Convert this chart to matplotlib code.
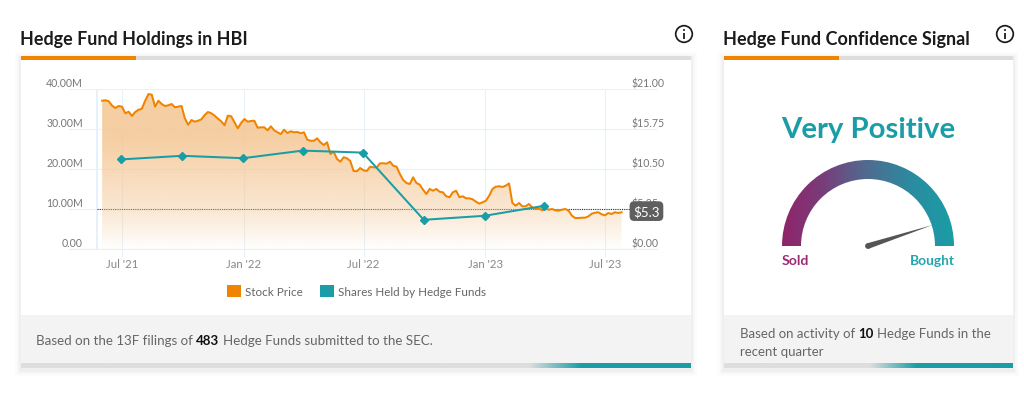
import matplotlib
matplotlib.use("Agg")
import matplotlib.pyplot as plt
import matplotlib.dates as mdates
import numpy as np
import pandas as pd
from matplotlib.patches import Rectangle, Polygon, Circle, Wedge, Patch
from matplotlib.colors import LinearSegmentedColormap

plt.rcParams['font.family'] = ['Lato', 'DejaVu Sans']

# ---- data ----
price_start = "2021-06-01"
price_step_days = 5
stock_price = [
    19.46, 19.52, 19.39, 18.81, 18.51, 18.77, 18.68, 17.81, 18.02, 17.46, 17.98, 18.28, 18.41, 19.46, 20.34, 20.25,
    18.68, 19.46, 19.03, 18.77, 18.86, 19.03, 18.60, 18.68, 18.77, 17.15, 16.31, 16.93, 16.71, 16.84, 17.02, 17.59,
    17.98, 17.81, 17.50, 17.10, 16.76, 16.24, 17.50, 17.42, 16.63, 15.84, 16.54, 17.06, 16.71, 16.80, 16.84, 15.92,
    15.97, 15.97, 15.58, 16.10, 15.58, 15.32, 15.09, 15.66, 15.23, 15.45, 15.32, 15.36, 15.19, 15.32, 14.35, 14.21,
    14.21, 14.53, 14.00, 13.65, 14.00, 12.47, 12.77, 11.81, 11.46, 12.04, 11.90, 11.55, 10.24, 10.20, 10.63, 10.33,
    10.24, 10.80, 10.72, 10.72, 11.25, 11.25, 11.20, 11.46, 10.93, 10.80, 9.84, 9.06, 8.66, 8.53, 9.41, 8.66,
    8.44, 7.78, 7.22, 7.88, 7.65, 7.88, 7.52, 7.44, 6.92, 6.79, 7.44, 7.65, 6.79, 6.92, 6.65, 6.65,
    6.52, 6.21, 5.95, 6.13, 6.34, 7.00, 7.88, 8.18, 8.23, 8.14, 8.31, 8.60, 6.04, 5.68, 6.04, 5.60,
    5.60, 5.91, 5.47, 5.25, 5.34, 5.08, 5.34, 5.16, 5.25, 5.08, 5.03, 5.16, 5.25, 5.03, 4.37, 4.07,
    4.07, 4.11, 4.11, 4.29, 4.63, 4.76, 4.82, 4.55, 4.42, 4.73, 4.59, 4.82, 4.73, 4.82,
]
share_dates = ["2021-06-30", "2021-09-30", "2021-12-31", "2022-03-31",
               "2022-06-30", "2022-09-30", "2022-12-31", "2023-03-31"]
shares_held = [22.4e6, 23.3e6, 22.7e6, 24.6e6, 24.1e6, 7.3e6, 8.3e6, 10.8e6]
last_price = 5.3
x_tick_dates = ["2021-07-01", "2022-01-01", "2022-07-01", "2023-01-01", "2023-07-01"]
x_tick_labels = ["Jul '21", "Jan '22", "Jul '22", "Jan '23", "Jul '23"]
left_ticks = [0, 10e6, 20e6, 30e6, 40e6]
left_labels = ["0.00", "10.00M", "20.00M", "30.00M", "40.00M"]
right_ticks = [0, 5.25, 10.5, 15.75, 21]
right_labels = ["$0.00", "$5.25", "$10.50", "$15.75", "$21.00"]
gauge_needle_deg = 18.0   # degrees above the "Bought" end

ORANGE = "#F08300"
TEAL = "#1A9DA6"
GRID = "#E8F1FA"
W, H = 1024, 406

fig = plt.figure(figsize=(W / 100, H / 100), dpi=100, facecolor="white")

# background layer in pixel coordinates
bg = fig.add_axes([0, 0, 1, 1], zorder=0)
bg.set_xlim(0, W); bg.set_ylim(H, 0); bg.axis("off")


def hgrad(ax, x0, x1, y0, y1, colors, stops=None, clip=None, z=2):
    if stops is None:
        stops = np.linspace(0, 1, len(colors))
    cmap = LinearSegmentedColormap.from_list("g", list(zip(stops, colors)))
    im = ax.imshow(np.linspace(0, 1, 512)[None, :], extent=(x0, x1, y1, y0), cmap=cmap,
                   aspect="auto", zorder=z, interpolation="bilinear")
    if clip is not None:
        im.set_clip_path(clip)
    return im


def panel(x0, x1, orange_end, grad_start, grad_end, footer_top=316):
    top, bottom = 57, 369
    for g, a in zip((6, 4, 2), (0.012, 0.02, 0.03)):
        bg.add_patch(Rectangle((x0 - g, top - g + 2), x1 - x0 + 2 * g, bottom - top + 2 * g,
                               fc="black", ec="none", alpha=a, zorder=1))
    bg.add_patch(Rectangle((x0, top), x1 - x0, bottom - top, fc="white", ec="none", zorder=1.5))
    bg.add_patch(Rectangle((x0, top), x1 - x0, 4.3, fc="#DDDDDD", ec="none", zorder=2))
    bg.add_patch(Rectangle((x0, top), orange_end - x0, 4.3, fc=ORANGE, ec="none", zorder=2.1))
    bg.add_patch(Rectangle((x0, footer_top), x1 - x0, 364 - footer_top, fc="#F3F3F3", ec="none", zorder=2))
    hgrad(bg, x0, x1, 364, 369, ["#DEDEDE", "#DEDEDE", TEAL, TEAL],
          [0, (grad_start - x0) / (x1 - x0), (grad_end - x0) / (x1 - x0), 1])


def info_icon(cx, cy):
    bg.add_patch(Circle((cx, cy), 8.3, fc="white", ec="#1c1c1c", lw=1.25, zorder=5))
    bg.plot([cx, cx], [cy - 1.0, cy + 4.8], color="#1c1c1c", lw=1.3, zorder=6, solid_capstyle="butt")
    bg.add_patch(Circle((cx, cy - 4), 1.0, fc="#1c1c1c", ec="none", zorder=6))


def rich(x, y, parts, size):
    r = fig.canvas.get_renderer()
    for s, weight, col, gap in parts:
        t = bg.text(x, y, s, fontsize=size, fontweight=weight, color=col, va="baseline", ha="left", zorder=6)
        x += t.get_window_extent(r).width + gap


panel(21, 691, 136, 530, 582)
panel(724, 1013, 838.5, 870, 917)
info_icon(684, 35)
info_icon(1005, 35)

bg.text(20, 39.5, "Hedge Fund Holdings in HBI", fontsize=12.85, fontweight="bold", color="#1b1b1b", va="center", zorder=6)
bg.text(723, 39.5, "Hedge Fund Confidence Signal", fontsize=12.95, fontweight="bold", color="#1b1b1b", va="center", zorder=6)

GREY = "#666666"
rich(36.5, 345, [("Based on the 13F filings of", "normal", GREY, 3.0), ("483", "bold", "#111111", 3.8),
                 ("Hedge Funds submitted to the SEC.", "normal", GREY, 0)], 9.62)
rich(739.5, 338.5, [("Based on activity of", "normal", GREY, 3.5), ("10", "bold", "#111111", 3.5),
                    ("Hedge Funds in the", "normal", GREY, 0)], 9.55)
rich(739.5, 356, [("recent quarter", "normal", GREY, 0)], 9.55)

# gauge
gx, gy, ro, ri = 868, 247, 86, 67
bg.text(gx, 130, "Very Positive", fontsize=21.2, fontweight="bold", color=TEAL, ha="center", va="center", zorder=6)
wedge = Wedge((gx, gy), ro, 180, 360, width=ro - ri, fc="none", ec="none", zorder=1.8, transform=bg.transData)
bg.add_patch(wedge)
hgrad(bg, gx - ro, gx + ro, gy - ro, gy, ["#90246A", "#7A3B78", "#4F6C90", "#2A8CA0", TEAL],
      [0, 0.22, 0.5, 0.76, 1], clip=wedge, z=3)
ang = np.deg2rad(gauge_needle_deg)
ux, uy = np.cos(ang), -np.sin(ang)
nx, ny = -uy, ux
bg.add_patch(Polygon([(gx + ux * 68, gy + uy * 68), (gx + nx * 2.8, gy + ny * 2.8), (gx - nx * 2.8, gy - ny * 2.8)],
                     closed=True, fc="#555555", ec="none", zorder=6))
bg.add_patch(Circle((gx, gy), 2.9, fc="#555555", ec="none", zorder=6))
bg.text(782, 261, "Sold", fontsize=10.2, fontweight="bold", color="#9B2C74", va="center", ha="left", zorder=6)
bg.text(954.5, 261, "Bought", fontsize=9.9, fontweight="bold", color="#25A5AE", va="center", ha="right", zorder=6)

# chart axes: pixel rectangle x 69..657, y 90..250
L, R, T, B = 69, 657, 90, 250
ax = fig.add_axes([L / W, 1 - B / H, (R - L) / W, (B - T) / H], zorder=2)
ax.patch.set_alpha(0)
ax2 = ax.twinx()
px_per_day = 483 / 730
d0 = mdates.date2num(pd.Timestamp("2021-07-01"))
ax.set_xlim(d0 - (122 - L) / px_per_day, d0 + (R - 122) / px_per_day)
ax.set_ylim(0, 21)

price_dates = pd.date_range(price_start, periods=len(stock_price), freq=f"{price_step_days}D")
pd_num = mdates.date2num(price_dates)
price = np.array(stock_price)

for s in ("top", "left", "right"):
    ax.spines[s].set_visible(False)
ax.spines["bottom"].set_color(GRID)
ax.spines["bottom"].set_linewidth(0.8)
ax.set_axisbelow(True)
ax.grid(True, color=GRID, lw=0.8)

ticks = mdates.date2num(pd.to_datetime(x_tick_dates))
ax.set_xticks(ticks, x_tick_labels)
ax.tick_params(axis="x", length=5.8, color=GRID, width=0.8, labelsize=8.2, labelcolor="#888888", pad=0.8)
ax.axvline(d0 - 25 / px_per_day, color=GRID, lw=1.4, zorder=0.5)

up = matplotlib.transforms.ScaledTranslation(0, 7.4 / 100, fig.dpi_scale_trans)

ax.yaxis.tick_right()
ax.set_yticks(right_ticks, right_labels)
ax.tick_params(axis="y", which="both", length=0, left=False, right=False, labelleft=False, labelright=True,
               labelsize=7.6, labelcolor="#777777", pad=-18)

# dotted last-price line under the fill
ax.plot([d0 - 25 / px_per_day, ax.get_xlim()[1] - 27 / px_per_day], [last_price, last_price],
        ls=(0, (1, 1)), color="#333333", lw=0.8, zorder=1.2)

# gradient area under the price
poly = Polygon(np.column_stack([np.r_[pd_num, pd_num[-1], pd_num[0]], np.r_[price, 0, 0]]),
               closed=True, fc="none", ec="none", transform=ax.transData)
ax.add_patch(poly)
yy = np.linspace(1, 0, 256)
alpha = np.interp(yy, [0, 0.06, 0.25, 0.45, 0.7, 1], [0.0, 0.12, 0.42, 0.62, 0.85, 0.85])
rgba = np.zeros((256, 1, 4))
rgba[..., 0] = 244 / 255; rgba[..., 1] = 198 / 255; rgba[..., 2] = 147 / 255
rgba[..., 3] = alpha[:, None]
xl = ax.get_xlim()
im = ax.imshow(rgba, extent=(xl[0], xl[1], 0, 21), aspect="auto", zorder=1.5, interpolation="bilinear")
im.set_clip_path(poly)
ax.set_xlim(xl); ax.set_ylim(0, 21)

ax.plot(pd_num, price, color=ORANGE, lw=1.45, zorder=3, solid_joinstyle="round")

# shares on the twin axis
ax2.set_ylim(0, 40e6)
ax2.patch.set_alpha(0)
for s in ax2.spines.values():
    s.set_visible(False)
ax2.yaxis.tick_left()
ax2.set_yticks(left_ticks, left_labels)
ax2.tick_params(axis="y", length=0, labelsize=7.6, labelcolor="#777777", pad=-10)
ax2.plot(mdates.date2num(pd.to_datetime(share_dates)), shares_held, color=TEAL, lw=1.45,
         marker="D", ms=4, mfc=TEAL, mec=TEAL, zorder=4)

# lift the y tick labels above their grid lines
for a in (ax, ax2):
    for lab in a.get_yticklabels():
        lab.set_transform(lab.get_transform() + up)

# last-price tag, drawn on the top axes so it hides the $5.25 label
ax2.annotate(f"${last_price}", xy=(1, last_price * 40e6 / 21), xycoords=("axes fraction", "data"),
             xytext=(-7.6, -1.8), textcoords="offset points", ha="center", va="center",
             fontsize=9.6, color="white", zorder=10, annotation_clip=False,
             bbox=dict(boxstyle="round,pad=0.27,rounding_size=0.35", fc="#5F5F5F", ec="none"))

# legend
handles = [Patch(fc=ORANGE, ec="none", label="Stock Price"), Patch(fc=TEAL, ec="none", label="Shares Held by Hedge Funds")]
fig.legend(handles=handles, loc="center left", bbox_to_anchor=(227 / W, 1 - 291.6 / H), frameon=False,
           fontsize=8.4, labelcolor="#666666", handlelength=1.2, handleheight=1.2, handletextpad=0.38,
           columnspacing=1.4, ncol=2, borderpad=0, borderaxespad=0)

fig.savefig("out.png", dpi=100, facecolor="white")
